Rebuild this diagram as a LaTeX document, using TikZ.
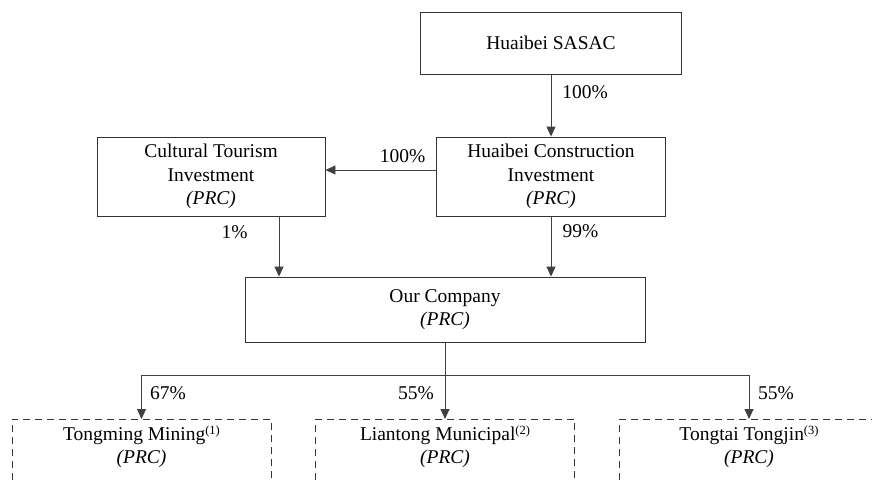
\documentclass[tikz,border=0pt]{standalone}
\usepackage{fontspec}
\setmainfont{Liberation Serif}
\newfontfamily\tnr{Liberation Serif}
\usetikzlibrary{arrows.meta}
\newcommand{\fnref}[1]{\raisebox{6pt}{\fontsize{12.5}{13}\selectfont(#1)}}
\begin{document}
\begin{tikzpicture}[x=1pt,y=-1pt,
  box/.style={draw=black!80, line width=0.9pt, align=center, inner sep=0pt,
    font=\tnr\fontsize{19.5}{23.5}\selectfont},
  dbox/.style={draw=black!80, line width=0.9pt, dash pattern=on 7pt off 5pt, inner sep=0pt,
    minimum width=259pt, minimum height=100pt, anchor=north},
  lbl/.style={font=\tnr\fontsize{19.5}{23.5}\selectfont, inner sep=0pt},
  txt/.style={font=\tnr\fontsize{19.5}{23.5}\selectfont, inner sep=0pt, anchor=base},
  conn/.style={draw=black!75, line width=0.9pt},
  arr/.style={conn, -{Triangle[length=10pt,width=9pt]}}]
\useasboundingbox (0,0) rectangle (872,480);
\clip (0,0) rectangle (872,480);

% boxes
\node[box, minimum width=261pt, minimum height=62pt] (sasac) at (551,43) {Huaibei SASAC};
\node[box, minimum width=229pt, minimum height=79pt] (hci) at (551,176.5)
  {Huaibei Construction\\Investment\\\textit{(PRC)}};
\node[box, minimum width=228pt, minimum height=79pt] (cti) at (211,176.5)
  {Cultural Tourism\\Investment\\\textit{(PRC)}};
\node[box, minimum width=400pt, minimum height=65pt] (our) at (445,309.5)
  {Our Company\\\textit{(PRC)}};

\node[dbox] (tm) at (141.5,419) {};
\node[dbox] (lt) at (445,419) {};
\node[dbox] (tt) at (749,419) {};
\node[txt] (tm1) at (141.5,440) {Tongming Mining\fnref{1}};
\node[txt] (tm2) at (141.5,463) {\textit{(PRC)}};
\node[txt] (lt1) at (445,440) {Liantong Municipal\fnref{2}};
\node[txt] (lt2) at (445,463) {\textit{(PRC)}};
\node[txt] (tt1) at (749,440) {Tongtai Tongjin\fnref{3}};
\node[txt] (tt2) at (749,463) {\textit{(PRC)}};

% connectors
\draw[arr] (sasac.south) -- (hci.north);
\draw[arr] ([yshift=6.5pt]hci.west) -- ([yshift=6.5pt]cti.east);
\draw[arr] ([xshift=68pt]cti.south) -- ([xshift=68pt]cti.south |- our.north);
\draw[arr] (hci.south) -- (hci.south |- our.north);
\coordinate (bus) at (445,375);
\draw[conn] (our.south) -- (our.south |- bus);
\draw[conn] (tm.north |- bus) -- (tt.north |- bus);
\draw[arr] (tm.north |- bus) -- (tm.north);
\draw[arr] (lt.north |- bus) -- (lt.north);
\draw[arr] (tt.north |- bus) -- (tt.north);

% percentages
\node[lbl] (p1) at (585,92) {100\%};
\node[lbl] (p2) at (402.5,156) {100\%};
\node[lbl] (p3) at (234.5,232) {1\%};
\node[lbl] (p4) at (580.5,231) {99\%};
\node[lbl] (p5) at (168,393) {67\%};
\node[lbl] (p6) at (416,393) {55\%};
\node[lbl] (p7) at (776,393) {55\%};
\end{tikzpicture}
\end{document}
